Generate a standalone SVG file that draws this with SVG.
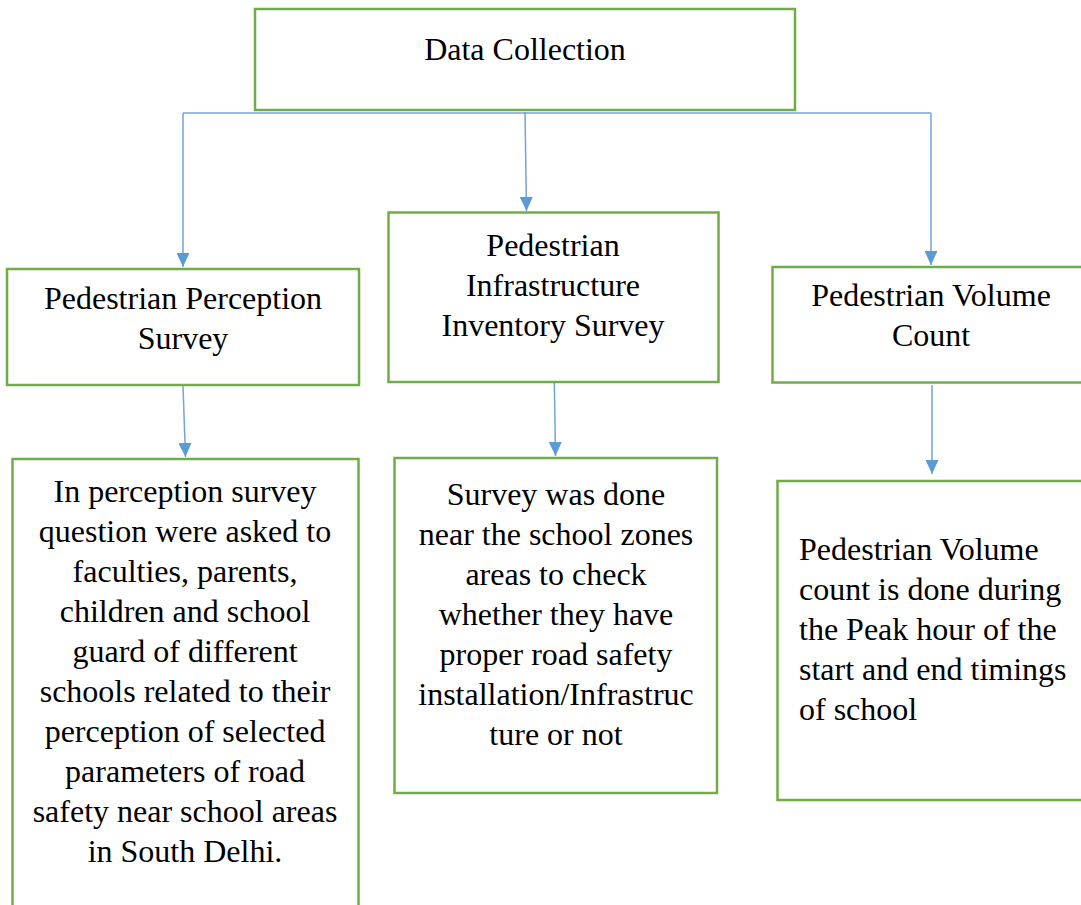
<svg xmlns="http://www.w3.org/2000/svg" width="1081" height="905" viewBox="0 0 1081 905">
<style>
.box{fill:#ffffff;stroke:#70AD47;stroke-width:2.5}
.t{font-family:"Liberation Serif","Times New Roman",serif;font-size:32px;fill:#000000}
.c{text-anchor:middle}
.ln{fill:none;stroke:#6FA5DC;stroke-width:1.5}
</style>
<defs>
<marker id="ah" viewBox="0 0 14 13" refX="14" refY="6.5" markerWidth="14" markerHeight="13" markerUnits="userSpaceOnUse" orient="auto">
<path d="M0,0 L14,6.5 L0,13 Z" fill="#5B9BD5"/>
</marker>
</defs>
<rect width="1081" height="905" fill="#ffffff"/>
<g id="connectors">
<path class="ln" d="M183,113 H931"/>
<path class="ln" d="M525,112 L526.5,211" marker-end="url(#ah)"/>
<path class="ln" d="M183,113 V267" marker-end="url(#ah)"/>
<path class="ln" d="M931,113 V265" marker-end="url(#ah)"/>
<path class="ln" d="M183,386 L185.5,457" marker-end="url(#ah)"/>
<path class="ln" d="M554,363 L555.5,456" marker-end="url(#ah)"/>
<path class="ln" d="M932,385 V474" marker-end="url(#ah)"/>
</g>
<g id="data-collection">
<rect class="box" x="255" y="9" width="540" height="101"/>
<text class="t c" x="525" y="60">Data Collection</text>
</g>
<g id="perception-survey">
<rect class="box" x="7" y="269" width="352" height="116"/>
<text class="t c" x="183" y="309">Pedestrian Perception</text>
<text class="t c" x="183" y="349">Survey</text>
</g>
<g id="infrastructure-survey">
<rect class="box" x="388.5" y="212.5" width="330" height="169.5"/>
<text class="t c" x="553" y="256">Pedestrian</text>
<text class="t c" x="553" y="296">Infrastructure</text>
<text class="t c" x="553" y="336">Inventory Survey</text>
</g>
<g id="volume-count">
<rect class="box" x="772.5" y="267" width="330" height="115.5"/>
<text class="t c" x="931" y="306">Pedestrian Volume</text>
<text class="t c" x="931" y="346">Count</text>
</g>
<g id="perception-detail">
<rect class="box" x="12.5" y="459" width="346" height="470"/>
<text class="t c" x="185" y="502">In perception survey</text>
<text class="t c" x="185" y="542">question were asked to</text>
<text class="t c" x="185" y="582">faculties, parents,</text>
<text class="t c" x="185" y="622">children and school</text>
<text class="t c" x="185" y="662">guard of different</text>
<text class="t c" x="185" y="702">schools related to their</text>
<text class="t c" x="185" y="742">perception of selected</text>
<text class="t c" x="185" y="782">parameters of road</text>
<text class="t c" x="185" y="822">safety near school areas</text>
<text class="t c" x="185" y="862">in South Delhi.</text>
</g>
<g id="infrastructure-detail">
<rect class="box" x="394.5" y="458" width="322.5" height="335"/>
<text class="t c" x="556" y="505">Survey was done</text>
<text class="t c" x="556" y="545">near the school zones</text>
<text class="t c" x="556" y="585">areas to check</text>
<text class="t c" x="556" y="625">whether they have</text>
<text class="t c" x="556" y="665">proper road safety</text>
<text class="t c" x="556" y="705">installation/Infrastruc</text>
<text class="t c" x="556" y="745">ture or not</text>
</g>
<g id="volume-detail">
<rect class="box" x="777.5" y="481" width="330" height="319"/>
<text class="t" x="799" y="560">Pedestrian Volume</text>
<text class="t" x="799" y="600">count is done during</text>
<text class="t" x="799" y="640">the Peak hour of the</text>
<text class="t" x="799" y="680">start and end timings</text>
<text class="t" x="799" y="720">of school</text>
</g>
</svg>
